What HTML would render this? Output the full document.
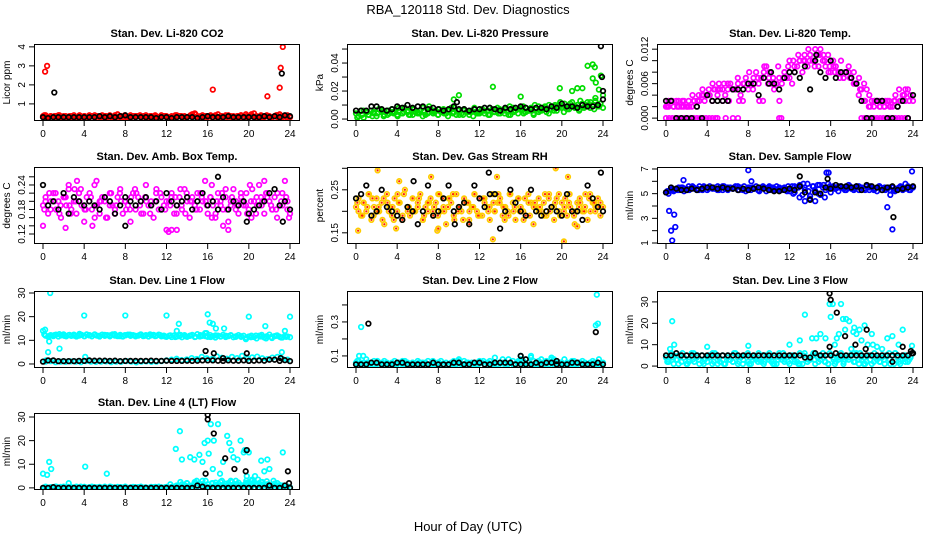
<!DOCTYPE html>
<html><head><meta charset="utf-8"><style>
html,body{margin:0;padding:0;background:#fff;width:936px;height:540px;overflow:hidden}
svg{display:block;font-family:"Liberation Sans",Arial,sans-serif}
</style></head><body>
<svg id="chart" width="936" height="540" viewBox="0 0 936 540" xmlns="http://www.w3.org/2000/svg">
<text x="468" y="14" text-anchor="middle" font-size="13">RBA_120118  Std. Dev. Diagnostics</text>
<text x="468" y="531" text-anchor="middle" font-size="13">Hour of Day (UTC)</text>
</svg>
<script>
// ---- data arrays ----
const hourTicks = [0,4,8,12,16,20,24];
const co2Band = [.35,.4,.3,.35,.3,.35,.4,.3,.35,.3,.3,.35,.4,.3,.35,.3,.35,.3,.4,.35,.3,.35,.3,.4,.35,.3,.35,.3,.4,.45,.35,.3,.35,.3,.4,.35,.3,.35,.3,.35,.4,.3,.35,.3,.35,.3,.4,.35,.3,.3,.35,.3,.4,.35,.3,.35,.3,.35,.45,.5,.35,.3,.4,.35,.3,.35,.3,.4,.45,.35,.3,.35,.4,.3,.35,.3,.35,.4,.3,.35,.3,.45,.5,.35,.3,.35,.3,.4,.35,.3,.35,.4,.45,.3,.35,.4,.3];
const co2Band2 = [.3,.35,.25,.3,.35,.3,.3,.35,.3,.35,.3,.3,.35,.3,.3,.35,.3,.3,.35,.3,.3,.35,.3,.3,.35,.3,.3,.35,.3,.35,.3,.3,.35,.3,.3,.35,.3,.3,.35,.3,.3,.35,.3,.3,.35,.3,.3,.35,.25];
const co2Band3 = [.4,.3,.35,.4,.3,.35,.3,.4,.35,.3,.4,.35,.3,.4,.35,.3,.4,.3,.35,.4,.3,.35,.4,.3,.35,.3,.4,.35,.3,.4,.45,.35,.3,.4,.35,.3,.4,.35,.3,.4,.45,.35,.3,.4,.35,.3,.4,.35,.3];
const co2OutX = [0.2,0.4,16.5,21.8,23,23.1,23.3];
const co2OutY = [2.7,3.0,1.75,1.4,1.85,2.9,4.0];
const co2Black = [.3,.25,.3,.3,.3,.3,.3,.3,.3,.3,.3,.35,.3,.35,.3,.35,.4,.3,.3,.3,.3,.3,.25,.3,.3,.25,.3,.3,.3,.3,.25,.3,.35,.3,.3,.3,.35,.3,.3,.3,.3,.3,.3,.35,.3,.35,.3,.4,.35];
const co2BlackOutX = [1.1,23.2];
const co2BlackOutY = [1.6,2.6];

const presBand = [.004,.002,.006,.001,.005,.003,.006,.004,.002,.007,.005,.003,.006,.004,.007,.005,.003,.006,.004,.008,.005,.003,.007,.005,.004,.006,.008,.003,.005,.007,.004,.006,.003,.005,.007,.004,.006,.008,.005,.003,.006,.004,.007,.005,.003,.006,.008,.004,.005,.007,.004,.006,.003,.007,.005,.008,.004,.006,.007,.005,.003,.008,.006,.004,.007,.009,.005,.006,.008,.004,.007,.009,.006,.008,.005,.01,.007,.009,.006,.01,.008,.011,.007,.009,.012,.008,.01,.007,.011,.009,.012,.008,.01,.013,.009,.011,.008];
const presBand2 = [.002,.006,.003,.005,.007,.002,.006,.004,.008,.005,.003,.007,.004,.006,.009,.005,.007,.004,.006,.008,.003,.006,.005,.007,.004,.006,.008,.005,.007,.004,.009,.006,.008,.005,.007,.01,.006,.009,.007,.01,.012,.008,.011,.009,.013,.01,.012,.015,.011];
const presBand3 = [.001,.003,.005,.002,.004,.006,.003,.005,.002,.004,.006,.003,.005,.002,.004,.006,.003,.005,.002,.004,.006,.003,.005,.002,.004,.006,.003,.005,.004,.006,.003,.005,.007,.004,.006,.003,.005,.007,.004,.006,.008,.005,.007,.009,.006,.008,.01,.007,.009];
const presOutX = [9.5,10,13.3,16,19.8,21,21.5,22,22.5,23,23.2,23,23.3,23.6,24,23.8];
const presOutY = [.014,.017,.023,.016,.022,.02,.022,.022,.038,.039,.037,.029,.026,.021,.017,.031];
const presBlack = [.006,.006,.006,.009,.009,.007,.006,.007,.009,.008,.01,.008,.009,.009,.007,.008,.007,.006,.007,.009,.007,.007,.006,.007,.007,.008,.008,.007,.006,.008,.007,.008,.009,.008,.007,.008,.008,.007,.009,.008,.011,.009,.009,.008,.01,.009,.009,.01,.014];
const presBlackOutX = [23.8,23.9,24,9.8];
const presBlackOutY = [.052,.03,.02,.012];

const tempBand = [.002,.002,.003,.002,.003,.002,.002,.003,.002,.002,.002,.003,.002,.003,.004,.003,.004,.004,.003,.005,.004,.005,.005,.004,.005,.006,.005,.005,.006,.004,.006,.007,.005,.006,.007,.008,.006,.007,.008,.009,.007,.006,.005,.006,.007,.006,.008,.007,.007,.006,.008,.009,.01,.008,.01,.009,.011,.01,.012,.011,.012,.01,.009,.011,.008,.01,.009,.008,.01,.007,.008,.009,.007,.008,.006,.007,.005,.006,.005,.004,.003,.003,.003,.002,.003,.002,.003,.002,.002,.003,.002,.003,.004,.003,.005,.004,.003];
const tempBand2 = [.003,.002,.003,.002,.003,.003,.004,.004,.005,.005,.006,.006,.003,.005,.003,.006,.008,.006,.003,.009,.008,.006,.003,.008,.01,.009,.01,.011,.01,.009,.011,.01,.009,.008,.007,.008,.007,.006,.005,.003,.002,.003,.002,.003,.002,.004,.003,.005,.004];
const tempBand3 = [.002,.003,.002,.003,.002,.004,.003,.005,.004,.006,.005,.003,.006,.005,.007,.003,.006,.005,.007,.003,.006,.007,.009,.007,.009,.01,.011,.01,.012,.01,.009,.011,.008,.009,.008,.007,.008,.006,.004,.003,.002,.002,.003,.002,.003,.003,.005,.004,.003];
const tempOutX = [0,.3,.6,.9,1.2,1.5,1.8,2.1,2.4,2.7,3,3.3,3.6,3.9,4.2,4.5,4.8,5,5.8,6.5,7,11,11.2,19,19.3,19.6,19.9,20.2,20.5,20.8,21.1,21.4,21.7,22,22.3,22.6,22.9,23.2,23.5];
const tempOutY = [0,0,0,0,0,0,0,0,0,0,0,0,0,0,0,0,0,0,0,0,0,0,0,0,0,0,0,0,0,0,0,0,0,0,0,0,0,0,0];
const tempBlack = [.003,.003,0,0,0,0,.002,0,.004,.003,.003,.003,.003,.005,.005,.005,.006,.006,.004,.007,.006,.006,.005,.007,.008,.008,.007,.009,.005,.01,.008,.007,.01,.007,.008,.008,.007,.006,.003,0,0,.003,.003,0,0,.002,.003,0,.004];
const tempBlackOutX = [10.2,14.6];
const tempBlackOutY = [.008,.011];

const ambBand = [.19,.21,.17,.2,.22,.18,.2,.16,.21,.19,.23,.18,.2,.17,.22,.19,.15,.21,.2,.18,.24,.19,.17,.21,.2,.16,.22,.19,.18,.21,.23,.17,.2,.19,.15,.22,.18,.21,.2,.17,.24,.19,.2,.16,.22,.18,.21,.19,.13,.2,.22,.17,.19,.21,.18,.23,.2,.16,.21,.19,.22,.18,.2,.25,.17,.21,.19,.16,.22,.2,.18,.21,.15,.19,.23,.2,.17,.21,.19,.22,.18,.16,.2,.21,.24,.19,.17,.22,.2,.18,.21,.16,.19,.22,.2,.18,.17];
const ambBand2 = [.2,.18,.22,.19,.21,.17,.2,.23,.18,.21,.19,.2,.16,.22,.19,.2,.18,.21,.22,.17,.2,.19,.23,.18,.2,.21,.17,.19,.22,.2,.18,.21,.19,.16,.2,.22,.18,.21,.19,.2,.17,.23,.19,.2,.21,.18,.22,.19,.2];
const ambBand3 = [.18,.22,.2,.17,.21,.19,.23,.2,.18,.22,.16,.2,.21,.19,.17,.22,.2,.18,.23,.19,.21,.17,.2,.22,.18,.19,.21,.23,.17,.2,.18,.22,.2,.21,.17,.19,.23,.2,.18,.22,.19,.2,.17,.21,.22,.19,.18,.2,.21];
const ambOutX = [0,2.5,3.3,5.2,12.2,12.5,13,16.4,17.5,18,20.1,21.5,23.5,23.9,2.2,4.8];
const ambOutY = [.14,.24,.25,.25,.125,.13,.13,.24,.14,.13,.24,.25,.25,.16,.135,.14];
const ambBlack = [.24,.19,.2,.18,.22,.17,.21,.2,.19,.2,.19,.18,.21,.2,.17,.19,.21,.2,.19,.2,.21,.19,.2,.18,.22,.2,.19,.2,.21,.18,.2,.22,.19,.2,.18,.21,.18,.2,.19,.2,.17,.18,.19,.2,.22,.23,.19,.2,.18];
const ambBlackOutX = [17,8,19.8,23.3];
const ambBlackOutY = [.26,.14,.15,.15];

const rhBand = [.21,.23,.19,.22,.2,.24,.18,.21,.23,.2,.22,.17,.24,.21,.19,.23,.2,.22,.18,.25,.21,.19,.23,.2,.22,.24,.18,.21,.2,.23,.19,.22,.24,.2,.21,.17,.23,.22,.19,.24,.21,.2,.23,.22,.18,.21,.24,.2,.23,.19,.22,.21,.18,.24,.2,.22,.23,.19,.21,.2,.24,.22,.18,.23,.21,.2,.19,.24,.22,.17,.21,.23,.2,.22,.19,.24,.21,.18,.23,.2,.22,.21,.19,.24,.2,.17,.22,.23,.2,.21,.18,.24,.22,.2,.23,.19,.21];
const rhBand2 = [.2,.22,.24,.19,.21,.23,.2,.18,.22,.24,.21,.2,.23,.19,.22,.21,.24,.2,.23,.18,.21,.22,.2,.24,.19,.23,.21,.2,.22,.18,.24,.21,.2,.23,.19,.22,.21,.24,.2,.22,.19,.23,.21,.2,.22,.24,.2,.21,.22];
const rhBand3 = [.22,.19,.21,.23,.2,.18,.22,.21,.24,.19,.2,.23,.21,.18,.22,.2,.19,.23,.21,.24,.2,.18,.22,.21,.19,.23,.2,.22,.24,.21,.19,.2,.23,.18,.22,.21,.2,.19,.23,.21,.24,.2,.22,.19,.21,.2,.23,.22,.21];
const rhOutX = [0.2,2.1,3.9,4.2,7.3,7.9,13.3,13.7,19.4,20.2,20.6,21.5,8,11];
const rhOutY = [.155,.295,.16,.27,.28,.155,.135,.28,.3,.13,.28,.165,.16,.17];
const rhBlack = [.23,.24,.26,.19,.2,.25,.21,.2,.19,.18,.21,.2,.17,.2,.26,.19,.2,.23,.26,.2,.21,.22,.17,.26,.23,.21,.24,.24,.16,.2,.25,.22,.2,.19,.25,.2,.19,.2,.21,.2,.19,.24,.2,.2,.18,.26,.23,.21,.2];
const rhBlackOutX = [23.8,12.9,9.6,5.6];
const rhBlackOutY = [.29,.29,.17,.27];

const flowBand = [5.1,5.2,5.3,5.2,5.4,5.3,5.5,5.2,5.4,5.3,5.5,5.4,5.3,5.6,5.4,5.5,5.3,5.6,5.5,5.4,5.3,5.5,5.6,5.4,5.3,5.5,5.4,5.6,5.3,5.5,5.4,5.2,5.5,5.3,5.4,5.6,5.3,5.5,5.4,5.2,5.5,5.3,5.4,5.6,5.4,5.3,5.5,5.2,5.4,5.6,5.1,5.5,5.7,4.9,5.3,5.8,4.8,5.6,5.2,5.7,4.9,5.5,5.3,5.8,5.1,5.6,5.4,5.2,5.6,5.5,5.3,5.7,5.4,5.5,5.6,5.3,5.5,5.4,5.6,5.3,5.5,5.4,5.2,5.6,5.3,5.5,5.4,5.3,5.5,5.2,5.4,5.5,5.3,5.4,5.6,5.3,5.5];
const flowBand2 = [5.0,5.3,5.5,5.4,5.6,5.5,5.3,5.6,5.4,5.5,5.3,5.6,5.4,5.5,5.3,5.6,5.5,5.4,5.2,5.5,5.6,5.3,5.5,5.4,5.2,5.6,4.7,5.5,4.6,5.3,5.7,4.7,5.6,5.4,5.5,5.3,5.6,5.4,5.5,5.3,5.6,5.4,5.5,5.3,4.9,5.4,5.6,5.8,5.5];
const flowBand3 = [5.2,5.4,5.3,5.5,5.3,5.6,5.4,5.3,5.5,5.4,5.6,5.3,5.5,5.4,5.6,5.3,5.4,5.5,5.3,5.6,5.4,5.5,5.3,5.4,5.6,5.0,5.5,5.8,5.2,5.6,5.0,5.7,5.4,5.5,5.6,5.4,5.5,5.3,5.6,5.4,5.5,5.3,5.6,5.4,5.5,5.3,5.5,5.4,5.3];
const flowOutX = [0.3,0.5,0.6,0.8,0.9,21.5,22,8,1.7,8.3,15.6,15.8,23.9,13.5,14.5];
const flowOutY = [3.6,2.0,1.2,3.3,2.3,3.9,2.1,6.9,6.1,6.0,6.7,6.7,6.8,4.4,4.4];
const flowBlack = [5.1,5.5,5.4,5.3,5.3,5.4,5.3,5.4,5.5,5.5,5.4,5.5,5.4,5.4,5.3,5.4,5.3,5.4,5.5,5.4,5.3,5.2,5.2,5.3,5.4,5.3,5.6,5.1,4.5,5.1,5.0,5.5,5.4,5.7,5.6,5.6,5.5,5.6,5.3,5.7,5.6,5.5,5.3,5.5,5.6,5.3,5.4,5.5,5.6];
const flowBlackOutX = [13,15.7,22.1];
const flowBlackOutY = [6.4,6.2,3.1];

const l1Band = [14,12,11.5,12.2,11.8,12.4,11.6,12.1,12.5,11.7,12.2,11.9,12.4,11.6,12,12.3,11.8,12.5,12.1,11.7,12.3,12,11.6,12.4,11.9,12.2,11.7,12.5,12,11.8,12.3,11.6,12.1,12.4,11.9,12.2,11.7,12,12.5,11.8,12.2,11.6,12.1,12.3,11.9,12.4,11.7,12,11.5,11.9,11.4,12.1,11.6,11.8,11.3,12.2,11.5,11.9,12.3,11.4,12.6,11.6,11.9,13,11.5,12.2,11.7,11.2,12,11.6,12.3,11.4,11.8,12.1,11.3,11.7,12.2,11.5,11.9,11.1,11.6,12,11.4,10.8,11.9,12.3,11.2,11.7,12.4,11,11.8,12.1,11.5,11.2,11.9,11.6,11.3];
const l1Band2 = [1,1.2,.8,1,.9,1.1,1,.8,1.2,1,.9,1,1.1,.8,1,.9,1.2,1,.7,1,1.1,.9,1,1.2,1.5,1.8,2.2,1.6,1.9,2.5,2.1,3,2.4,2,3.2,2.6,2.2,3,2.5,3.4,2.2,2.8,3.1,2.4,2,2.7,3,2.2,1.8];
const l1Band3 = [12.5,11.8,12.2,12.6,11.9,12.3,12,12.7,11.8,12.2,12.5,11.9,12.3,12.1,12.6,11.8,12.2,12.4,11.9,12.3,12,12.5,11.8,12.2,11.6,12.1,11.4,12.3,11.7,12,11.5,12.2,11.8,11.4,12.1,11.6,11.9,12.2,11.5,11.8,10.5,11.3,12,11.6,10.8,11.4,11.9,11.2,11.5];
const l1OutX = [0.7,4,8,12,16,20,24,0.2,13.2,16.5,16.8,21.6,0.5,1.6,13,16.2,17.6,15.9,0.6,4.1,0.3,23.2,23.5];
const l1OutY = [30,20.5,20.5,20.5,21,20,20,14.5,17,17,15,16,5,6.5,14,17.5,15,13,9.5,3,1.5,5,14];
const l1Black = [1,1.5,1.5,1.2,1.2,1.2,1.2,1.3,1.3,1.5,1.4,1.4,1.4,1.3,1.4,1.2,1.3,1.3,1.3,1.3,1.3,1.4,1.3,1.3,1.4,1.3,1.3,1.3,1.4,1.3,1.4,1.5,1.5,1.5,1.4,1.3,1.5,1.4,1.4,1.5,1.3,1.4,1.5,1.4,1.8,1.8,1.3,1.6,1.2];
const l1BlackOutX = [15.8,16.6,19.8,17.5,23.1];
const l1BlackOutY = [5.5,4.5,4.5,2.5,2.5];

const l2Band = [.06,.07,.05,.06,.08,.05,.06,.07,.05,.06,.05,.07,.06,.05,.06,.07,.05,.06,.05,.07,.06,.05,.06,.05,.07,.06,.05,.06,.07,.05,.06,.05,.06,.07,.05,.06,.05,.06,.07,.05,.06,.05,.07,.06,.05,.06,.05,.06,.07,.06,.05,.06,.07,.05,.06,.05,.06,.08,.06,.05,.06,.07,.05,.06,.08,.07,.05,.06,.09,.07,.06,.05,.08,.06,.07,.05,.09,.06,.07,.05,.06,.08,.06,.05,.07,.06,.05,.06,.07,.06,.05,.06,.07,.05,.06,.05,.06];
const l2Band2 = [.05,.06,.04,.05,.06,.05,.04,.05,.06,.05,.04,.05,.06,.05,.04,.05,.06,.05,.04,.05,.06,.05,.04,.05,.06,.05,.04,.05,.06,.05,.04,.05,.06,.05,.04,.05,.06,.05,.04,.05,.06,.05,.04,.05,.06,.05,.04,.05,.05];
const l2Band3 = [.07,.05,.06,.04,.07,.06,.05,.04,.06,.07,.05,.06,.04,.06,.05,.07,.06,.04,.05,.06,.07,.05,.06,.04,.05,.07,.06,.05,.04,.06,.08,.05,.07,.06,.04,.05,.07,.06,.05,.08,.06,.04,.05,.07,.06,.05,.04,.06,.05];
const l2OutX = [0.5,0.3,0.7,23.4,23.3,23.5,23.6,16,17,10,13.5,19];
const l2OutY = [.27,.1,.1,.46,.28,.29,.08,.1,.1,.08,.09,.08];
const l2Black = [.05,.05,.05,.06,.06,.05,.05,.05,.06,.06,.05,.05,.05,.05,.05,.06,.05,.05,.05,.06,.06,.05,.05,.06,.06,.05,.05,.06,.06,.06,.06,.05,.05,.05,.05,.06,.05,.06,.06,.05,.05,.05,.06,.06,.05,.05,.05,.06,.05];
const l2BlackOutX = [1.2,23.3,16,16.5,19.5];
const l2BlackOutY = [.29,.24,.1,.08,.07];

const l3Band = [4,2,6,1,3,5,2,4,1,3,6,2,4,1,5,3,2,4,1,6,3,2,5,1,4,3,2,6,1,4,3,5,2,1,4,3,6,2,1,5,3,2,4,1,6,3,2,4,1,5,3,2,6,1,4,2,3,5,1,4,3,6,2,1,5,4,2,3,6,1,4,3,5,2,6,1,3,4,2,5,1,6,3,2,4,1,5,3,2,6,4,1,3,5,2,4,6];
const l3Band2 = [3,5,1,4,2,6,3,1,5,2,4,1,3,6,2,5,1,4,3,2,6,1,4,3,5,2,1,6,4,3,5,2,6,1,4,3,5,2,6,1,3,4,2,5,1,6,3,2,4];
const l3Band3 = [2,4,3,6,1,3,5,2,4,6,1,3,5,2,4,1,6,3,2,5,4,1,3,6,2,4,1,5,3,6,2,4,1,3,5,2,4,6,3,1,5,2,4,3,6,1,2,5,3];
const l3OutX = [0.6,0.8,0.4,13.5,13,14.6,15,15.5,15.9,16,16.2,16.4,16.6,16.8,17,17.2,17.5,17.8,18,18.3,18.5,18.8,19,19.3,19.6,20,20.5,21,21.5,22,22.6,23,23.9,4,8,12,20.1,14.2,17.4,18.2];
const l3OutY = [21,10,8,24,12,13,15,13,29,23,29,10,13,15,29,22,22,21,8,18,15,17,12,19,10,15,9,8,13,14,10,17,9.5,9,9.5,10,10,13,17,16];
const l3Black = [5,5,6,5,5,5,5,5,5,5,5,5,5,5,5,5,5,5,5,5,5,5,5,5,5,5,5,4,4,6,5,5,5,6,5,5,5,5,5,5,5,5,5,5,5,5,5,5,6];
const l3BlackOutX = [15.9,16,16.6,17.4,18.4,19.5,19.4,15.9,23,22,23.8,23.9];
const l3BlackOutY = [34,31,25,14,10,17,8,9,9,2,7,6];

const l4Band = [0,0.5,0,0.3,0,0.6,0,0.2,0.5,0,0.4,0.3,0,0.5,0.2,0,0.4,0,0.3,0.5,0,0.2,0.4,0,0.3,0,0.5,0.2,0,0.4,0.3,0,0.5,0,0.2,0.4,0,0.3,0.5,0,0.2,0,0.4,0.3,0,0.5,0.2,0,0.4,0,0.3,0.5,0.8,0,1.5,0.5,2,0.3,1,2.5,0.5,1.2,3,0.6,1.5,0.2,2,1,0.4,2.5,1.2,0.5,2,3,0.8,1.5,2.2,0.4,1,3,1.8,0.6,2.4,1.2,2,0.5,1.5,2.8,0.4,1,1.8,0.6,1.2,0.3,0.8,0.5,0.2];
const l4Band2 = [0,0.3,0,0.4,0,0.2,0,0.5,0,0.3,0,0.2,0,0.4,0,0.3,0,0.2,0,0.4,0,0.3,0,0.2,0,0.4,1,0.5,2,1,3,1.5,0.5,2,1.2,3,1,2.5,1.5,0.8,2,3.5,1,2.5,1.5,0.8,2,1,0.5];
const l4Band3 = [0.2,0,0.4,0,0.3,0,0.2,0,0.4,0,0.3,0,0.5,0,0.2,0,0.4,0,0.3,0,0.2,0,0.4,0,0.3,1.5,0.5,2.5,1,0.8,2,1.5,3,0.5,2.2,1,1.8,0.6,3,1.2,2,0.8,1.5,2.5,1,0.4,1.2,0.6,0.3];
const l4OutX = [0,0.4,0.6,0.8,4.1,6.2,2.5,12.9,13.3,13.5,14.3,14.7,15.2,15.5,15.7,16,16.1,16.3,16.5,16.6,17,17.2,17.5,17.9,18.1,18.3,18.5,18.9,19.2,19.5,19.8,20,20.3,20.6,20.9,21.2,21.5,21.8,22,22.4,23.3,19.6,20.4];
const l4OutY = [6,5.5,11,8,9,6,2,16.5,24,12,13,12,14,11,19,20,14.5,27,8,20,27,6,11,22,19,16,13,12,20,15,5,15,3,5,3.5,11.5,7,12,8,3,15,16,2];
const l4Black = [0,0,0.3,0,0,0,0,0,0,0,0,0,0,0,0,0,0,0,0,0,0,0,0,0,0,0,0,0,0,0,1,0.5,0,0,0,0,0,0,0,0,0,0,0,0,1,0,0,1,0];
const l4BlackOutX = [16,16,16.6,17.7,18.6,19.8,19.7,15.8,23.8,23.9,22];
const l4BlackOutY = [31,29,23,12.5,8,16,7,6,7,2,1];

// ---- panel setup ----
const NS = 'http://www.w3.org/2000/svg';
const svg = document.getElementById('chart');
const colLeft = [34, 347, 657];
const colW = 266;
const rowTop = [44, 167, 291, 413];
const rowH = 77;

const panels = [
 {key:'co2', title:'Stan. Dev. Li-820 CO2', ylab:'Licor ppm', col:0,row:0, ymin:0.1, ymax:4.15, ticks:[1,2,3,4], labels:['1','2','3','4'], color:'#ff0000', band:co2Band, band2:co2Band2, band3:co2Band3, ox:co2OutX, oy:co2OutY, black:co2Black, bx:co2BlackOutX, by:co2BlackOutY},
 {key:'pressure', title:'Stan. Dev. Li-820 Pressure', ylab:'kPa', col:1,row:0, ymin:-0.0014, ymax:0.0536, ticks:[0,.01,.02,.03,.04,.05], labels:['0.00','','0.02','','0.04',''], color:'#00dd00', band:presBand, band2:presBand2, band3:presBand3, ox:presOutX, oy:presOutY, black:presBlack, bx:presBlackOutX, by:presBlackOutY},
 {key:'li820-temp', title:'Stan. Dev. Li-820 Temp.', ylab:'degrees C', col:2,row:0, ymin:-0.0005, ymax:0.0129, ticks:[0,.002,.004,.006,.008,.01,.012], labels:['0.000','','','0.006','','','0.012'], color:'#ff00ff', band:tempBand, band2:tempBand2, band3:tempBand3, ox:tempOutX, oy:tempOutY, black:tempBlack, bx:tempBlackOutX, by:tempBlackOutY},
 {key:'amb-box-temp', title:'Stan. Dev. Amb. Box Temp.', ylab:'degrees C', col:0,row:1, ymin:0.0955, ymax:0.284, ticks:[.12,.14,.16,.18,.2,.22,.24,.26], labels:['0.12','','','0.18','','','0.24',''], color:'#ff00ff', band:ambBand, band2:ambBand2, band3:ambBand3, ox:ambOutX, oy:ambOutY, black:ambBlack, bx:ambBlackOutX, by:ambBlackOutY},
 {key:'gas-stream-rh', title:'Stan. Dev. Gas Stream RH', ylab:'percent', col:1,row:1, ymin:0.124, ymax:0.303, ticks:[.15,.2,.25,.3], labels:['0.15','','0.25',''], color:'#ffcc00', dot:'#ff2000', band:rhBand, band2:rhBand2, band3:rhBand3, ox:rhOutX, oy:rhOutY, black:rhBlack, bx:rhBlackOutX, by:rhBlackOutY},
 {key:'sample-flow', title:'Stan. Dev. Sample Flow', ylab:'ml/min', col:2,row:1, ymin:0.92, ymax:7.16, ticks:[1,2,3,4,5,6,7], labels:['1','','3','','5','','7'], color:'#0000ff', band:flowBand, band2:flowBand2, band3:flowBand3, ox:flowOutX, oy:flowOutY, black:flowBlack, bx:flowBlackOutX, by:flowBlackOutY},
 {key:'line1-flow', title:'Stan. Dev. Line 1 Flow', ylab:'ml/min', col:0,row:2, ymin:-1.7, ymax:30.85, ticks:[0,10,20,30], labels:['0','10','20','30'], color:'#00ffff', band:l1Band, band2:l1Band2, band3:l1Band3, ox:l1OutX, oy:l1OutY, black:l1Black, bx:l1BlackOutX, by:l1BlackOutY},
 {key:'line2-flow', title:'Stan. Dev. Line 2 Flow', ylab:'ml/min', col:1,row:2, ymin:0.029, ymax:0.482, ticks:[.1,.2,.3,.4], labels:['0.1','','0.3',''], color:'#00ffff', band:l2Band, band2:l2Band2, band3:l2Band3, ox:l2OutX, oy:l2OutY, black:l2Black, bx:l2BlackOutX, by:l2BlackOutY},
 {key:'line3-flow', title:'Stan. Dev. Line 3 Flow', ylab:'ml/min', col:2,row:2, ymin:-0.9, ymax:35.1, ticks:[0,10,20,30], labels:['0','10','20','30'], color:'#00ffff', band:l3Band, band2:l3Band2, band3:l3Band3, ox:l3OutX, oy:l3OutY, black:l3Black, bx:l3BlackOutX, by:l3BlackOutY},
 {key:'line4-flow', title:'Stan. Dev. Line 4 (LT) Flow', ylab:'ml/min', col:0,row:3, ymin:-0.9, ymax:31.7, ticks:[0,10,20,30], labels:['0','10','20','30'], color:'#00ffff', band:l4Band, band2:l4Band2, band3:l4Band3, ox:l4OutX, oy:l4OutY, black:l4Black, bx:l4BlackOutX, by:l4BlackOutY}
];

function mk(tag, attrs, parent){
  const e = document.createElementNS(NS, tag);
  for (const k in attrs) e.setAttribute(k, attrs[k]);
  (parent||svg).appendChild(e);
  return e;
}

panels.forEach(p => {
  const L = colLeft[p.col], T = rowTop[p.row], R = L + colW, B = T + rowH;
  const x0 = L + 9, x1 = R - 10;
  const xs = h => x0 + (h/24)*(x1-x0);
  const ys = v => B - (v - p.ymin)/(p.ymax - p.ymin)*rowH;

  const g = mk('g', {});
  
  

  const title = mk('text', {x:(L+R)/2, y:T-7, 'text-anchor':'middle', 'font-size':'11', 'font-weight':'bold'}, g);
  
  
  title.textContent = p.title;

  const cid = 'clip-' + p.key;
  const cp = mk('clipPath', {id:cid}, g);
  mk('rect', {x:L, y:T, width:colW, height:rowH}, cp);
  const pts = mk('g', {'clip-path':'url(#'+cid+')'}, g);
  
  

  function ring(x, y, col, dot){
    const c = mk('circle', {cx:xs(x).toFixed(1), cy:ys(y).toFixed(1), r:2.3, fill:'none', stroke:col, 'stroke-width':1.7}, pts);
    
    
    if (dot) mk('circle', {cx:xs(x).toFixed(1), cy:ys(y).toFixed(1), r:1.1, fill:dot}, pts);
  }
  p.band.forEach((v,i) => ring(i*24/(p.band.length-1), v, p.color, p.dot));
  p.band2.forEach((v,i) => ring((i+0.5)*24/p.band2.length, v, p.color, p.dot));
  p.band3.forEach((v,i) => ring((i+0.25)*24/p.band3.length, v, p.color, p.dot));
  p.ox.forEach((x,i) => ring(x, p.oy[i], p.color, p.dot));
  p.black.forEach((v,i) => ring(i*24/(p.black.length-1), v, '#000'));
  p.bx.forEach((x,i) => ring(x, p.by[i], '#000'));

  const box = mk('rect', {x:L+0.5, y:T+0.5, width:colW-1, height:rowH-1, fill:'none', stroke:'#000', 'stroke-width':1}, g);
  
  

  const xa = mk('g', {}, g);
  
  
  hourTicks.forEach(h => {
    mk('line', {x1:xs(h), x2:xs(h), y1:B, y2:B+5, stroke:'#000'}, xa);
    const t = mk('text', {x:xs(h), y:B+16, 'text-anchor':'middle', 'font-size':'10'}, xa);
    t.textContent = h;
  });
  const ya = mk('g', {}, g);
  
  
  p.ticks.forEach((v,i) => {
    const y = ys(v);
    if (y < T-1 || y > B+1) return;
    mk('line', {x1:L-5, x2:L, y1:y, y2:y, stroke:'#000'}, ya);
    if (p.labels[i]) {
      const t = mk('text', {x:L-9, y:y, 'text-anchor':'middle', 'font-size':'10', transform:'rotate(-90 '+(L-9)+' '+y+')'}, ya);
      t.textContent = p.labels[i];
    }
  });
  const yl = mk('text', {x:L-24, y:(T+B)/2, 'text-anchor':'middle', 'font-size':'10', transform:'rotate(-90 '+(L-24)+' '+((T+B)/2)+')'}, g);
  
  
  yl.textContent = p.ylab;
});
</script>
</body></html>
